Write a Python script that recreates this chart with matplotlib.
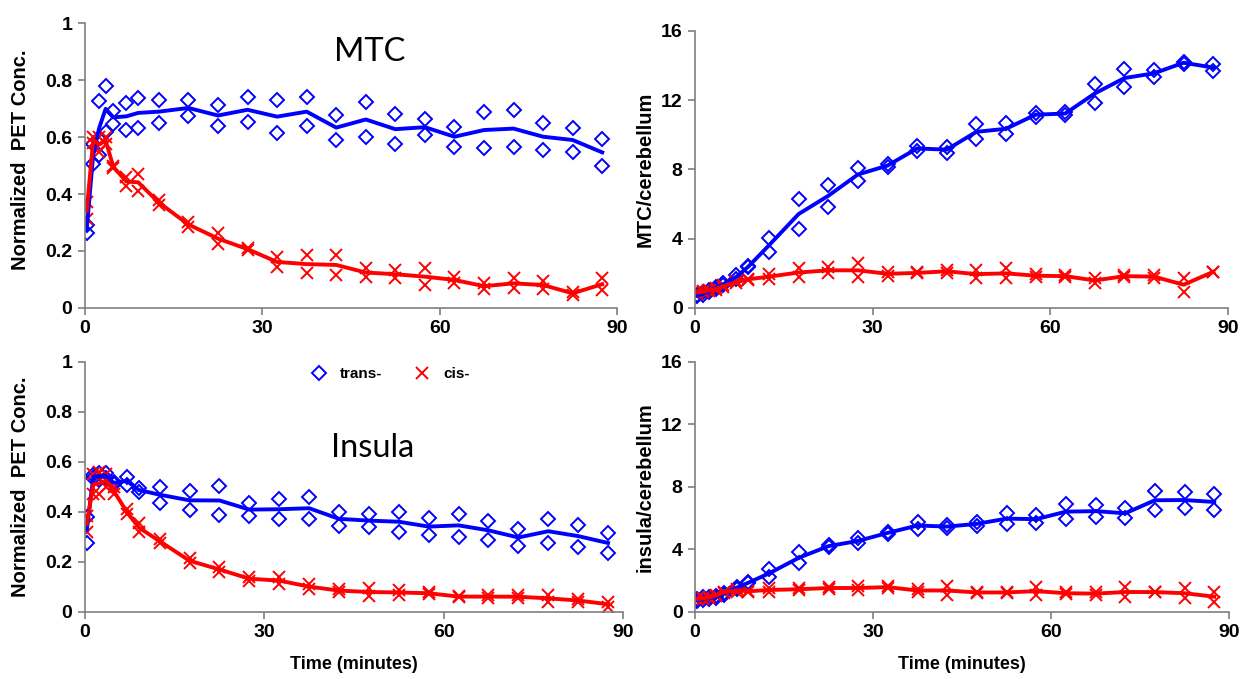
import matplotlib
matplotlib.use("Agg")
import matplotlib.pyplot as plt
import numpy as np

plt.rcParams['font.family'] = ['Liberation Sans', 'DejaVu Sans']

# sampling times (minutes)
time_min = [0.3, 1.4, 2.4, 3.5, 4.8, 7, 9, 12.5, 17.5, 22.5, 27.5, 32.5, 37.5,
            42.5, 47.5, 52.5, 57.5, 62.5, 67.5, 72.5, 77.5, 82.5, 87.5]

# MTC, normalized PET concentration (two subjects each)
mtc_trans_a = [0.29, 0.574, 0.726, 0.779, 0.692, 0.72, 0.736, 0.730, 0.730, 0.712, 0.739, 0.730,
               0.739, 0.677, 0.724, 0.680, 0.662, 0.636, 0.689, 0.695, 0.648, 0.633, 0.593]
mtc_trans_b = [0.262, 0.505, 0.537, 0.619, 0.646, 0.625, 0.633, 0.648, 0.674, 0.639, 0.652, 0.613,
               0.639, 0.589, 0.599, 0.575, 0.607, 0.566, 0.560, 0.564, 0.554, 0.546, 0.499]
mtc_cis_a = [0.373, 0.601, 0.599, 0.600, 0.50, 0.459, 0.47, 0.379, 0.303, 0.262, 0.209, 0.178,
             0.186, 0.186, 0.139, 0.133, 0.139, 0.110, 0.088, 0.104, 0.095, 0.057, 0.104]
mtc_cis_b = [0.311, 0.578, 0.548, 0.575, 0.49, 0.429, 0.412, 0.361, 0.283, 0.225, 0.204, 0.145,
             0.122, 0.116, 0.110, 0.104, 0.081, 0.087, 0.065, 0.069, 0.066, 0.046, 0.063]

# MTC / cerebellum ratio
mtcr_trans_a = [0.75, 0.90, 1.05, 1.23, 1.46, 1.91, 2.43, 4.03, 6.30, 7.11, 8.07, 8.32, 9.36,
                9.32, 10.61, 10.67, 11.28, 11.31, 12.92, 13.81, 13.75, 14.23, 14.08]
mtcr_trans_b = [0.67, 0.75, 0.90, 1.10, 1.30, 1.70, 2.35, 3.22, 4.56, 5.85, 7.35, 8.13, 9.07,
                8.97, 9.74, 10.03, 11.05, 11.15, 11.86, 12.75, 13.36, 14.10, 13.69]
mtcr_cis_a = [0.97, 0.97, 1.05, 1.14, 1.30, 1.55, 1.70, 1.96, 2.29, 2.35, 2.58, 2.10, 2.05,
              2.20, 2.20, 2.29, 1.96, 1.91, 1.75, 1.91, 1.91, 1.75, 2.10]
mtcr_cis_b = [0.80, 0.90, 1.00, 1.05, 1.23, 1.43, 1.62, 1.66, 1.81, 2.00, 1.77, 1.85, 2.00,
              2.04, 1.71, 1.71, 1.77, 1.77, 1.43, 1.77, 1.71, 0.94, 2.08]

# Insula, normalized PET concentration
ins_trans_a = [0.381, 0.548, 0.555, 0.555, 0.521, 0.541, 0.495, 0.501, 0.485, 0.504, 0.435, 0.451,
               0.459, 0.401, 0.392, 0.401, 0.375, 0.392, 0.365, 0.332, 0.371, 0.348, 0.317]
ins_trans_b = [0.275, 0.535, 0.528, 0.535, 0.512, 0.508, 0.481, 0.437, 0.408, 0.388, 0.384, 0.371,
               0.371, 0.344, 0.339, 0.321, 0.308, 0.301, 0.288, 0.264, 0.275, 0.259, 0.235]
ins_cis_a = [0.384, 0.55, 0.56, 0.55, 0.50, 0.41, 0.355, 0.291, 0.215, 0.179, 0.141, 0.139,
             0.112, 0.091, 0.095, 0.088, 0.078, 0.065, 0.068, 0.066, 0.068, 0.052, 0.041]
ins_cis_b = [0.321, 0.47, 0.47, 0.50, 0.47, 0.39, 0.321, 0.275, 0.195, 0.161, 0.125, 0.112,
             0.091, 0.080, 0.065, 0.068, 0.072, 0.058, 0.055, 0.056, 0.041, 0.040, 0.021]

# insula / cerebellum ratio
insr_trans_a = [0.80, 0.95, 0.95, 1.00, 1.20, 1.60, 1.90, 2.73, 3.82, 4.29, 4.71, 5.14, 5.78,
                5.57, 5.78, 6.32, 6.21, 6.91, 6.85, 6.63, 7.77, 7.70, 7.55]
insr_trans_b = [0.70, 0.75, 0.85, 0.90, 1.10, 1.50, 1.85, 2.22, 3.12, 4.14, 4.39, 4.99, 5.29,
                5.36, 5.50, 5.63, 5.67, 5.93, 6.06, 6.00, 6.53, 6.63, 6.53]
insr_cis_a = [0.85, 0.90, 0.95, 1.10, 1.30, 1.45, 1.35, 1.52, 1.52, 1.62, 1.66, 1.66, 1.45,
              1.66, 1.28, 1.30, 1.58, 1.25, 1.25, 1.58, 1.30, 1.52, 1.30]
insr_cis_b = [0.80, 0.85, 0.90, 1.00, 1.20, 1.30, 1.30, 1.30, 1.39, 1.45, 1.41, 1.52, 1.30,
              1.09, 1.22, 1.20, 1.09, 1.15, 1.10, 0.98, 1.25, 0.88, 0.66]

conc_ticks = [0, 0.2, 0.4, 0.6, 0.8, 1]
conc_labels = ['0', '0.2', '0.4', '0.6', '0.8', '1']
ratio_ticks = [0, 4, 8, 12, 16]
time_ticks = [0, 30, 60, 90]

BLUE = '#0000FF'
RED = '#FF0000'
AXCOL = '#7f7f7f'


def draw_panel(ax, trans_a, trans_b, cis_a, cis_b):
    t = np.array(time_min)
    for ys in (trans_a, trans_b):
        ax.plot(t, ys, linestyle='none', marker='D', markersize=7.2,
                markerfacecolor='none', markeredgecolor=BLUE, markeredgewidth=1.4)
    for ys in (cis_a, cis_b):
        ax.plot(t, ys, linestyle='none', marker='x', markersize=9,
                markeredgecolor=RED, markeredgewidth=1.4)
    ax.plot(t, (np.array(trans_a) + np.array(trans_b)) / 2, color=BLUE, lw=2.8)
    ax.plot(t, (np.array(cis_a) + np.array(cis_b)) / 2, color=RED, lw=2.8)

    ax.set_xlim(0, 90)
    ax.set_xticks(time_ticks)
    for side in ('top', 'right'):
        ax.spines[side].set_visible(False)
    for side in ('left', 'bottom'):
        ax.spines[side].set_color(AXCOL)
        ax.spines[side].set_linewidth(1.2)
    ax.tick_params(direction='out', length=5, width=1.2, color=AXCOL,
                   labelsize=14, pad=4)
    for lab in ax.get_xticklabels() + ax.get_yticklabels():
        lab.set_fontweight('bold')


fig = plt.figure(figsize=(12.44, 6.79), dpi=100)

ax1 = fig.add_axes([0.0683, 0.5464, 0.4277, 0.4197])
ax2 = fig.add_axes([0.5587, 0.5464, 0.4285, 0.4080])
ax3 = fig.add_axes([0.0683, 0.0987, 0.4325, 0.3682])
ax4 = fig.add_axes([0.5587, 0.0987, 0.4293, 0.3682])

for ax in (ax1, ax3):
    ax.set_ylim(0, 1)
    ax.set_yticks(conc_ticks)
    ax.set_yticklabels(conc_labels)
for ax in (ax2, ax4):
    ax.set_ylim(0, 16)
    ax.set_yticks(ratio_ticks)

draw_panel(ax1, mtc_trans_a, mtc_trans_b, mtc_cis_a, mtc_cis_b)
draw_panel(ax2, mtcr_trans_a, mtcr_trans_b, mtcr_cis_a, mtcr_cis_b)
draw_panel(ax3, ins_trans_a, ins_trans_b, ins_cis_a, ins_cis_b)
draw_panel(ax4, insr_trans_a, insr_trans_b, insr_cis_a, insr_cis_b)

# axis titles
ax1.set_ylabel('Normalized  PET Conc.', fontsize=14.5, fontweight='bold')
ax3.set_ylabel('Normalized  PET Conc.', fontsize=14.5, fontweight='bold')
ax2.set_ylabel('MTC/cerebellum', fontsize=14.5, fontweight='bold')
ax4.set_ylabel('insula/cerebellum', fontsize=14.5, fontweight='bold')
ax1.yaxis.set_label_coords(-0.103, 0.52)
ax3.yaxis.set_label_coords(-0.102, 0.5)
ax2.yaxis.set_label_coords(-0.075, 0.5)
ax4.yaxis.set_label_coords(-0.075, 0.5)
ax3.set_xlabel('Time (minutes)', fontsize=13, fontweight='bold')
ax4.set_xlabel('Time (minutes)', fontsize=13, fontweight='bold')
ax3.xaxis.set_label_coords(0.5, -0.175)
ax4.xaxis.set_label_coords(0.5, -0.175)

# region labels
fig.text(0.2975, 0.923, 'MTC', fontsize=23.5, family=['Lato', 'DejaVu Sans'],
         ha='center', va='center')
fig.text(0.2998, 0.340, 'Insula', fontsize=23.5, family=['Lato', 'DejaVu Sans'],
         ha='center', va='center')

# legend
h_trans, = ax3.plot([], [], linestyle='none', marker='D', markersize=7.2,
                    markerfacecolor='none', markeredgecolor=BLUE, markeredgewidth=1.4)
h_cis, = ax3.plot([], [], linestyle='none', marker='x', markersize=9,
                  markeredgecolor=RED, markeredgewidth=1.4)
leg = fig.legend([h_trans, h_cis], ['trans-', 'cis-'], ncol=2, frameon=False,
                 loc='center', bbox_to_anchor=(0.3135, 0.449),
                 prop={'weight': 'bold', 'size': 11},
                 handletextpad=0.8, columnspacing=2.0, handlelength=1.2)

fig.savefig('out.png', dpi=100)
